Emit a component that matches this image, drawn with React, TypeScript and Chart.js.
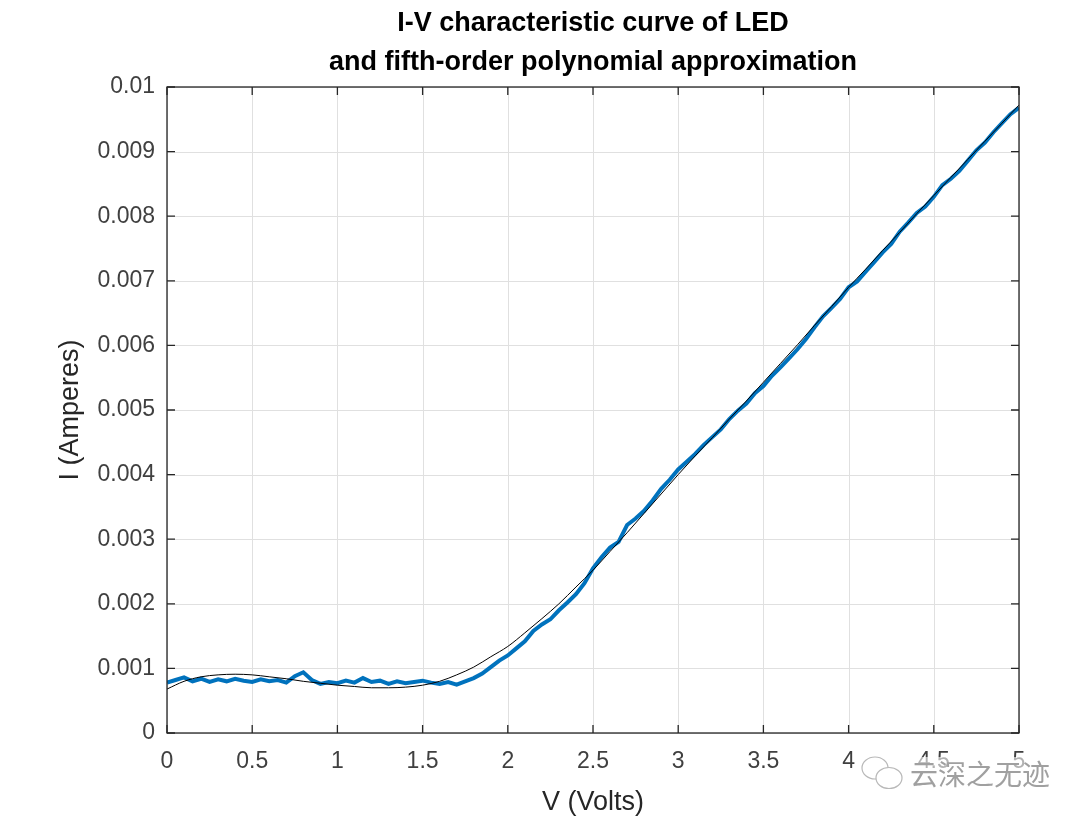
import React, { useEffect, useRef } from "react";
import { Chart, registerables } from "chart.js";

Chart.register(...registerables);

const titleLines = ["I-V characteristic curve of LED", "and fifth-order polynomial approximation"];
const xAxisTitle = "V (Volts)";
const yAxisTitle = "I (Amperes)";
const watermark = "云深之无迹";

const xTickValues = [0, 0.5, 1, 1.5, 2, 2.5, 3, 3.5, 4, 4.5, 5];
const xTickLabels = ["0", "0.5", "1", "1.5", "2", "2.5", "3", "3.5", "4", "4.5", "5"];
const yTickValues = [0, 0.001, 0.002, 0.003, 0.004, 0.005, 0.006, 0.007, 0.008, 0.009, 0.01];
const yTickLabels = ["0", "0.001", "0.002", "0.003", "0.004", "0.005", "0.006", "0.007", "0.008", "0.009", "0.01"];

// measured data, V step 0.05
const measuredV = [
  0.0, 0.05, 0.1, 0.15, 0.2, 0.25, 0.3, 0.35, 0.4, 0.45,
  0.5, 0.55, 0.6, 0.65, 0.7, 0.75, 0.8, 0.85, 0.9, 0.95,
  1.0, 1.05, 1.1, 1.15, 1.2, 1.25, 1.3, 1.35, 1.4, 1.45,
  1.5, 1.55, 1.6, 1.65, 1.7, 1.75, 1.8, 1.85, 1.9, 1.95,
  2.0, 2.05, 2.1, 2.15, 2.2, 2.25, 2.3, 2.35, 2.4, 2.45,
  2.5, 2.55, 2.6, 2.65, 2.7, 2.75, 2.8, 2.85, 2.9, 2.95,
  3.0, 3.05, 3.1, 3.15, 3.2, 3.25, 3.3, 3.35, 3.4, 3.45,
  3.5, 3.55, 3.6, 3.65, 3.7, 3.75, 3.8, 3.85, 3.9, 3.95,
  4.0, 4.05, 4.1, 4.15, 4.2, 4.25, 4.3, 4.35, 4.4, 4.45,
  4.5, 4.55, 4.6, 4.65, 4.7, 4.75, 4.8, 4.85, 4.9, 4.95,
  5.0,
];
const measuredI = [
  0.00078, 0.00082, 0.00086, 0.0008, 0.00084, 0.00079, 0.00083, 0.0008, 0.00084, 0.00081,
  0.00079, 0.00083, 0.0008, 0.00082, 0.00078, 0.00088, 0.00094, 0.00082, 0.00076, 0.00079,
  0.00077, 0.00081, 0.00078, 0.00085, 0.00079, 0.00081, 0.00076, 0.0008, 0.00077, 0.00079,
  0.00081, 0.00078, 0.00076, 0.00079, 0.00075, 0.0008, 0.00085, 0.00092, 0.00102, 0.00112,
  0.0012, 0.00131, 0.00142, 0.00158, 0.00168, 0.00176, 0.0019, 0.00202, 0.00215, 0.00232,
  0.00255, 0.00272, 0.00287, 0.00296, 0.00322, 0.00332, 0.00344, 0.0036, 0.00378, 0.00392,
  0.00408, 0.0042, 0.00432, 0.00446, 0.00458, 0.0047, 0.00486, 0.00499, 0.0051, 0.00526,
  0.00537, 0.00553, 0.00566, 0.0058, 0.00594, 0.0061, 0.00628, 0.00645, 0.00658, 0.00672,
  0.0069, 0.00699, 0.00714, 0.00729, 0.00744, 0.00757, 0.00776, 0.0079, 0.00805, 0.00815,
  0.0083, 0.00848, 0.00858, 0.0087, 0.00886, 0.00902, 0.00914, 0.0093, 0.00944, 0.00958,
  0.00968,
];

// fifth-order polynomial fit, V step 0.1
const fitV = [
  0.0, 0.1, 0.2, 0.3, 0.4, 0.5, 0.6, 0.7, 0.8, 0.9,
  1.0, 1.1, 1.2, 1.3, 1.4, 1.5, 1.6, 1.7, 1.8, 1.9,
  2.0, 2.1, 2.2, 2.3, 2.4, 2.5, 2.6, 2.7, 2.8, 2.9,
  3.0, 3.1, 3.2, 3.3, 3.4, 3.5, 3.6, 3.7, 3.8, 3.9,
  4.0, 4.1, 4.2, 4.3, 4.4, 4.5, 4.6, 4.7, 4.8, 4.9,
  5.0,
];
const fitI = [
  0.00068, 0.0008, 0.00087, 0.0009, 0.00091, 0.0009, 0.00087, 0.00084, 0.0008, 0.00077,
  0.00074, 0.00072, 0.0007, 0.0007, 0.00071, 0.00074, 0.0008, 0.0009, 0.00102, 0.00118,
  0.00134, 0.00155, 0.00177, 0.002, 0.00226, 0.00252, 0.00281, 0.0031, 0.0034, 0.0037,
  0.004, 0.00429, 0.00457, 0.00486, 0.00514, 0.00543, 0.00572, 0.00601, 0.00631, 0.0066,
  0.0069, 0.00718, 0.00747, 0.00775, 0.00804, 0.00832, 0.0086, 0.00888, 0.00916, 0.00944,
  0.00972,
];

const FONT = '"Liberation Sans", Arial, Helvetica, sans-serif';

const decorPlugin = {
  id: "decor",
  beforeDatasetsDraw(chart: any) {
    const { ctx, chartArea, scales } = chart;
    const { left, right, top, bottom } = chartArea;
    ctx.save();
    ctx.strokeStyle = "#e0e0e0";
    ctx.lineWidth = 1;
    ctx.beginPath();
    xTickValues.forEach((v) => {
      const x = Math.round(scales.x.getPixelForValue(v)) + 0.5;
      ctx.moveTo(x, top);
      ctx.lineTo(x, bottom);
    });
    yTickValues.forEach((v) => {
      const y = Math.round(scales.y.getPixelForValue(v)) + 0.5;
      ctx.moveTo(left, y);
      ctx.lineTo(right, y);
    });
    ctx.stroke();
    ctx.restore();
  },
  afterDraw(chart: any) {
    const { ctx, chartArea, scales } = chart;
    const { left, right, top, bottom } = chartArea;
    ctx.save();
    // box + inward ticks
    ctx.strokeStyle = "#262626";
    ctx.lineWidth = 1.3;
    ctx.strokeRect(left, top, right - left, bottom - top);
    const tl = 8;
    ctx.beginPath();
    xTickValues.forEach((v) => {
      const x = scales.x.getPixelForValue(v);
      ctx.moveTo(x, bottom);
      ctx.lineTo(x, bottom - tl);
      ctx.moveTo(x, top);
      ctx.lineTo(x, top + tl);
    });
    yTickValues.forEach((v) => {
      const y = scales.y.getPixelForValue(v);
      ctx.moveTo(left, y);
      ctx.lineTo(left + tl, y);
      ctx.moveTo(right, y);
      ctx.lineTo(right - tl, y);
    });
    ctx.stroke();

    const cx = (left + right) / 2;
    // title
    ctx.fillStyle = "#000000";
    ctx.textAlign = "center";
    ctx.textBaseline = "alphabetic";
    ctx.font = `bold 27px ${FONT}`;
    ctx.fillText(titleLines[0], cx, 31);
    ctx.fillText(titleLines[1], cx, 70);

    // axis titles
    ctx.fillStyle = "#262626";
    ctx.font = `27px ${FONT}`;
    ctx.fillText(xAxisTitle, cx, 810);
    ctx.save();
    ctx.translate(78, (top + bottom) / 2);
    ctx.rotate(-Math.PI / 2);
    ctx.fillText(yAxisTitle, 0, 0);
    ctx.restore();

    // watermark
    ctx.fillStyle = "rgba(255,255,255,0.6)";
    ctx.fillRect(908, 757, 140, 34);
    ctx.strokeStyle = "#b8b8b8";
    ctx.lineWidth = 1.2;
    ctx.beginPath();
    ctx.ellipse(875, 768, 13, 11, 0, 0, Math.PI * 2);
    ctx.stroke();
    ctx.fillStyle = "#ffffff";
    ctx.beginPath();
    ctx.ellipse(889, 778, 13, 10.5, 0, 0, Math.PI * 2);
    ctx.fill();
    ctx.stroke();
    ctx.fillStyle = "#a0a0a0";
    ctx.font = `28px "Noto Sans CJK SC", sans-serif`;
    ctx.textAlign = "left";
    ctx.textBaseline = "middle";
    ctx.fillText(watermark, 910, 774);
    ctx.restore();
  },
};

export default function App() {
  const ref = useRef<HTMLCanvasElement | null>(null);
  useEffect(() => {
    document.body.style.margin = "0";
    const canvas = ref.current;
    if (!canvas) return;
    const chart = new Chart(canvas, {
      type: "line",
      data: {
        datasets: [
          {
            label: "measured",
            data: measuredV.map((v, i) => ({ x: v, y: measuredI[i] })),
            borderColor: "#0072BD",
            borderWidth: 4,
            pointRadius: 0,
            tension: 0,
            fill: false,
            order: 2,
          },
          {
            label: "fit",
            data: fitV.map((v, i) => ({ x: v, y: fitI[i] })),
            borderColor: "#000000",
            borderWidth: 1,
            pointRadius: 0,
            cubicInterpolationMode: "monotone",
            fill: false,
            order: 1,
          },
        ],
      },
      options: {
        responsive: false,
        animation: false,
        layout: { padding: { top: 87, right: 61, left: 0, bottom: 0 } },
        plugins: {
          legend: { display: false },
          title: { display: false },
          tooltip: { enabled: false },
        },
        scales: {
          x: {
            type: "linear",
            min: 0,
            max: 5,
            grid: { display: false, drawTicks: false },
            border: { display: false },
            afterBuildTicks: (scale: any) => {
              scale.ticks = xTickValues.map((v) => ({ value: v }));
            },
            afterFit: (scale: any) => {
              scale.height = 89;
            },
            ticks: {
              padding: 15,
              color: "#404040",
              font: { family: FONT, size: 23 },
              maxRotation: 0,
              autoSkip: false,
              callback: (_v: any, i: number) => xTickLabels[i],
            },
          },
          y: {
            type: "linear",
            min: 0,
            max: 0.01,
            grid: { display: false, drawTicks: false },
            border: { display: false },
            afterBuildTicks: (scale: any) => {
              scale.ticks = yTickValues.map((v) => ({ value: v }));
            },
            afterFit: (scale: any) => {
              scale.width = 167;
            },
            ticks: {
              padding: 12,
              color: "#404040",
              font: { family: FONT, size: 23 },
              autoSkip: false,
              callback: (_v: any, i: number) => yTickLabels[i],
            },
          },
        },
      },
      plugins: [decorPlugin],
    } as any);
    return () => chart.destroy();
  }, []);
  return (
    <div style={{ width: 1080, height: 822, background: "#ffffff" }}>
      <canvas ref={ref} width={1080} height={822} style={{ display: "block" }} />
    </div>
  );
}
